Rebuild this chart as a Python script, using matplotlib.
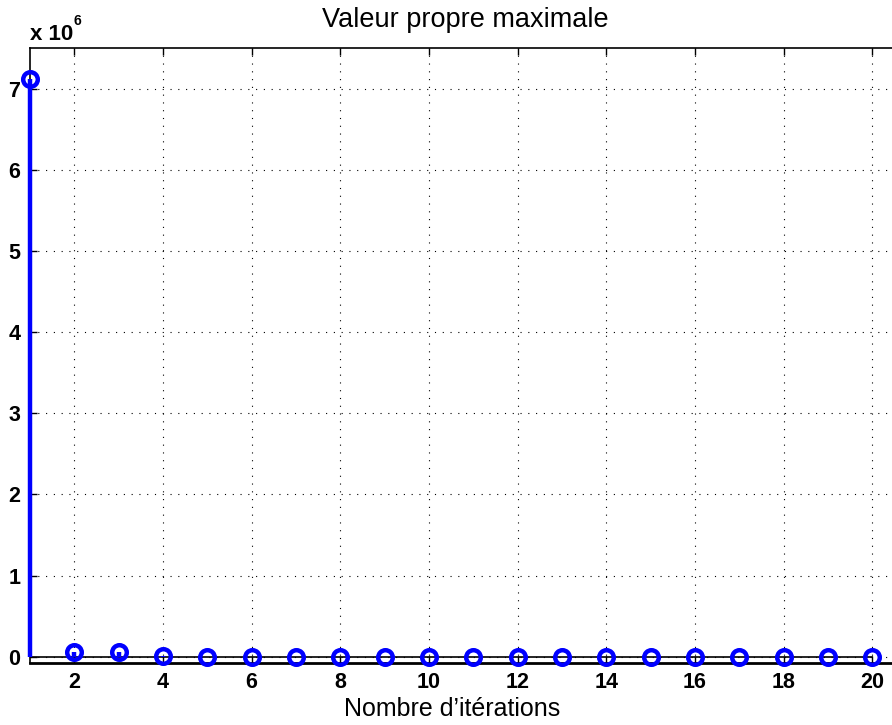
import matplotlib
matplotlib.use("Agg")
import matplotlib.pyplot as plt
import numpy as np

plt.rcParams['font.family'] = ['Liberation Sans', 'DejaVu Sans']

iterations = list(range(1, 21))
values = [7.12e6, 0.054e6, 0.055e6, 0.004e6, 0.002e6, 0.002e6, 0.002e6, 0.002e6,
          0.002e6, 0.002e6, 0.002e6, 0.002e6, 0.002e6, 0.002e6, 0.002e6, 0.002e6,
          0.002e6, 0.002e6, 0.002e6, 0.002e6]
xticks = [2, 4, 6, 8, 10, 12, 14, 16, 18, 20]
yticks = [0, 1, 2, 3, 4, 5, 6, 7]

W, H = 892, 725
fig = plt.figure(figsize=(W / 100, H / 100), dpi=100)
left, right, top, bottom = 30, 30 + 20 * 44.33, 48, 662.5
ax = fig.add_axes([left / W, 1 - bottom / H, (right - left) / W, (bottom - top) / H])

scale = 1e6
y = np.array(values) / scale
ml, sl, bl = ax.stem(iterations, y, basefmt='k-')
plt.setp(sl, color='#0000ff', linewidth=3.2, zorder=4, clip_on=False)
plt.setp(ml, color='#0000ff', marker='o', markerfacecolor='none', markersize=10.5,
         markeredgewidth=3.2, zorder=5, clip_on=False)
plt.setp(bl, color='black', linewidth=1.2, zorder=3)

ax.set_xlim(1, 21)
ax.set_ylim(-0.071, 7.5)
ax.set_xticks(xticks)
ax.set_yticks(yticks)
ax.tick_params(direction='in', top=True, right=True, length=5, width=1,
               labelsize=15.5, pad=7)
for lab in ax.get_xticklabels() + ax.get_yticklabels():
    lab.set_fontweight('bold')
ax.grid(True, linestyle=(0, (1, 6)), color='black', linewidth=0.8)
for s in ax.spines.values():
    s.set_linewidth(1.2)
ax.spines['bottom'].set_linewidth(2)

fig.text(30 / W, 1 - 40 / H, 'x 10', fontsize=16, fontweight='bold',
         ha='left', va='baseline')
fig.text(74 / W, 1 - 25 / H, '6', fontsize=10, fontweight='bold',
         ha='left', va='baseline')
fig.text(465 / W, 1 - 20 / H, 'Valeur propre maximale', fontsize=19.5,
         ha='center', va='center')
fig.text(452 / W, 1 - 709 / H, 'Nombre d\u2019itérations', fontsize=18,
         ha='center', va='center')

fig.savefig('out.png', dpi=100)
